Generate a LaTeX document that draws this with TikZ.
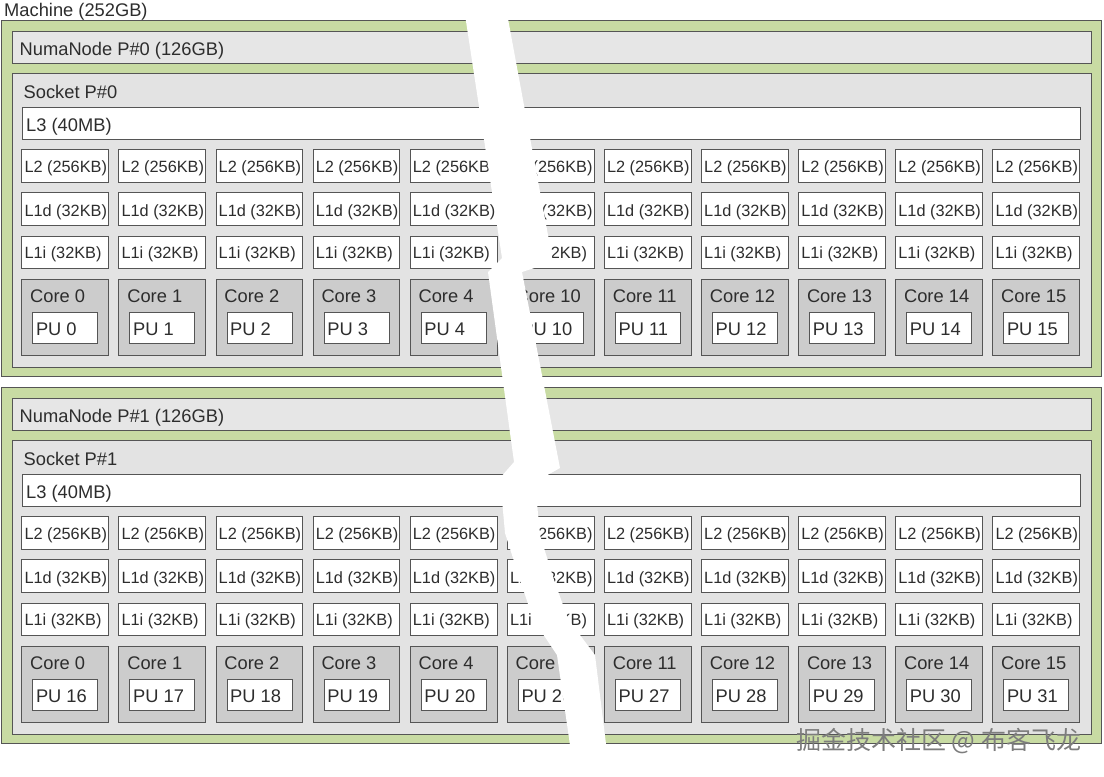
\documentclass[tikz,border=0pt]{standalone}
\usepackage{fontspec}
\setmainfont{Liberation Sans}
\newfontfamily\cjkfont{Noto Sans CJK SC}
\usepackage{tikz}
\usetikzlibrary{positioning,calc}

\definecolor{numagreen}{RGB}{200,219,163}
\definecolor{bargrey}{RGB}{230,230,230}
\definecolor{sockgrey}{RGB}{227,227,227}
\definecolor{coregrey}{RGB}{204,204,204}
\definecolor{edgegrey}{RGB}{85,85,85}
\definecolor{txtgrey}{RGB}{45,45,45}
\definecolor{markgrey}{RGB}{125,125,125}

\begin{document}
\begin{tikzpicture}[
    x=1pt, y=-1pt,
    box/.style={draw=edgegrey, line width=0.8pt, anchor=north west, inner sep=0pt},
    numabox/.style={box, fill=numagreen, minimum width=1100pt, minimum height=355.5pt},
    numabar/.style={box, fill=bargrey, minimum width=1079pt, minimum height=32pt},
    sockbox/.style={box, fill=sockgrey, minimum width=1079pt, minimum height=294pt},
    l3box/.style={box, fill=white, minimum width=1058.5pt, minimum height=31.5pt},
    cachebox/.style={box, fill=white, minimum width=86.8pt, minimum height=32.7pt},
    corebox/.style={box, fill=coregrey, minimum width=86.8pt, minimum height=75.5pt},
    pubox/.style={box, fill=white, minimum width=65pt, minimum height=31.6pt},
    lbl/.style={font=\fontsize{18.3}{21}\selectfont, text=txtgrey, anchor=base west, inner sep=0pt},
    cachelbl/.style={lbl, font=\fontsize{16.3}{19}\selectfont}
]
\fill[white] (0,0) rectangle (1104,777);
\useasboundingbox (0,0) rectangle (1104,777);

\node[lbl] (machine) at (4,16.7) {Machine (252GB)};

% one numa node with its socket, top and bottom half
\foreach \n/\y in {0/0, 1/367} {
    \node[numabox] (numa\n) at (1,20+\y) {};
    \node[numabar] (bar\n) at (11.5,31+\y) {};
    \node[lbl] (barlbl\n) at ([shift={(8,24)}]bar\n.north west) {NumaNode P\#\n\ (126GB)};
    \node[sockbox] (sock\n) at (11.5,73+\y) {};
    \node[lbl] (socklbl\n) at ([shift={(12,25.7)}]sock\n.north west) {Socket P\#\n};
    \node[l3box] (l3-\n) at (21.5,107+\y) {};
    \node[lbl] (l3lbl\n) at ([shift={(4.5,24)}]l3-\n.north west) {L3 (40MB)};

    \foreach \c [count=\i from 0] in {0,1,2,3,4,10,11,12,13,14,15} {
        \pgfmathsetmacro\xx{21.3+97.1*\i}
        \pgfmathtruncatemacro\pu{\c+16*\n}
        \node[cachebox] (l2-\n-\c) at (\xx,149.3+\y) {};
        \node[cachelbl] at ([shift={(3,23.4)}]l2-\n-\c.north west) {L2 (256KB)};
        \node[cachebox] (l1d-\n-\c) at (\xx,192.3+\y) {};
        \node[cachelbl] at ([shift={(3,23.7)}]l1d-\n-\c.north west) {L1d (32KB)};
        \node[cachebox] (l1i-\n-\c) at (\xx,235.7+\y) {};
        \node[cachelbl] at ([shift={(3,23)}]l1i-\n-\c.north west) {L1i (32KB)};
        \node[corebox] (core-\n-\c) at (\xx,279+\y) {};
        \node[lbl] at ([shift={(8.7,23.7)}]core-\n-\c.north west) {Core \c};
        \node[pubox] (pu-\n-\c) at ([shift={(11,32.7)}]core-\n-\c.north west) {};
        \node[lbl] at ([shift={(3.5,23.3)}]pu-\n-\c.north west) {PU \pu};
    }
}

% the break through the middle
\fill[white] (464,8) -- (502,258) -- (488,272) -- (514,462) -- (500,478) -- (505,533)
    -- (519,577) -- (533,619) -- (557,655) -- (571,752)
    -- (607,752) -- (595,655) -- (568,619) -- (553,577) -- (540,535) -- (535,482)
    -- (560,468) -- (522,272) -- (553,262) -- (506,8) -- cycle;

\node[font=\cjkfont\fontsize{25}{28}\selectfont, text=markgrey, anchor=west, inner sep=0pt]
    (mark) at (796,741) {掘金技术社区 @ 布客飞龙};

\end{tikzpicture}
\end{document}
